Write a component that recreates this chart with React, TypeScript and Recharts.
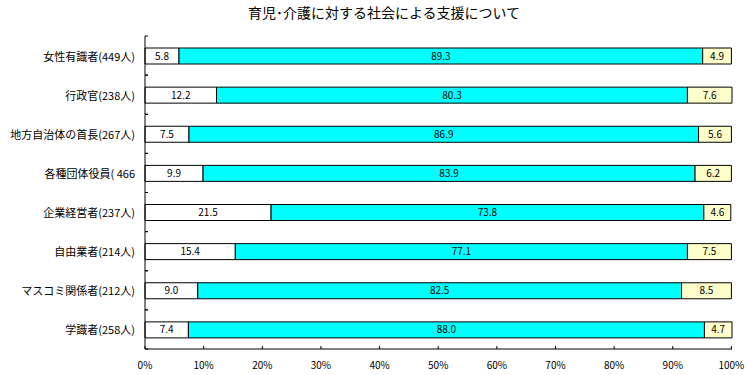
import React from 'react';
import { BarChart, Bar, XAxis, YAxis, LabelList } from 'recharts';

const title = '育児･介護に対する社会による支援について';
const categories = [
  '女性有識者(449人)',
  '行政官(238人)',
  '地方自治体の首長(267人)',
  '各種団体役員( 466',
  '企業経営者(237人)',
  '自由業者(214人)',
  'マスコミ関係者(212人)',
  '学識者(258人)',
];
const seriesWhite = [5.8, 12.2, 7.5, 9.9, 21.5, 15.4, 9.0, 7.4];
const seriesCyan = [89.3, 80.3, 86.9, 83.9, 73.8, 77.1, 82.5, 88.0];
const seriesYellow = [4.9, 7.6, 5.6, 6.2, 4.6, 7.5, 8.5, 4.7];
const xTicks = [0, 10, 20, 30, 40, 50, 60, 70, 80, 90, 100];

const data = categories.map((name, i) => ({
  name,
  a: seriesWhite[i],
  b: seriesCyan[i],
  c: seriesYellow[i],
}));

const W = 747;
const H = 375;
const M = { top: 36, right: 15, left: 0, bottom: 0 };
const Y_W = 145;
const X_H = 26;
const BAND = (H - M.top - M.bottom - X_H) / categories.length;
const FONT = '"Noto Sans CJK JP", "Noto Sans", sans-serif';

const CatTick = (props: any) => {
  const { x, y, payload } = props;
  return (
    <g>
      <text x={x - 10} y={y} textAnchor="end" dominantBaseline="central" fontSize={11} fill="#000" fontFamily={FONT}>
        {payload.value}
      </text>
      <line x1={x} x2={x + 3} y1={y - BAND / 2} y2={y - BAND / 2} stroke="#000" />
      <line x1={x} x2={x + 3} y1={y + BAND / 2} y2={y + BAND / 2} stroke="#000" />
    </g>
  );
};

const PctTick = (props: any) => {
  const { x, y, payload } = props;
  return (
    <g>
      <line x1={x} x2={x} y1={y - 3} y2={y} stroke="#000" />
      <text x={x} y={y + 15} textAnchor="middle" dominantBaseline="central" fontSize={10} fill="#000" fontFamily={FONT}>
        {`${payload.value}%`}
      </text>
    </g>
  );
};

const fmt = (v: any) => Number(v).toFixed(1);

export default function App() {
  return (
    <div style={{ position: 'absolute', left: 0, top: 0, width: W, height: H, background: '#fff' }}>
      <div
        style={{
          position: 'absolute',
          left: 0,
          width: 768,
          top: 3,
          textAlign: 'center',
          fontSize: 14,
          fontFamily: FONT,
          color: '#000',
          lineHeight: '18px',
        }}
      >
        {title}
      </div>
      <BarChart width={W} height={H} data={data} layout="vertical" margin={M} barSize={16}>
        <XAxis
          xAxisId="b"
          type="number"
          domain={[0, 100]}
          ticks={xTicks}
          height={X_H}
          tickSize={0}
          tickMargin={0}
          tick={<PctTick />}
          axisLine={{ stroke: '#000' }}
          interval={0}
        />
        <XAxis
          xAxisId="t"
          orientation="top"
          type="number"
          domain={[0, 100]}
          height={0}
          tick={false}
          tickLine={false}
          axisLine={{ stroke: '#808080' }}
        />
        <YAxis
          yAxisId="l"
          type="category"
          dataKey="name"
          width={Y_W}
          tickSize={0}
          tickMargin={0}
          tick={<CatTick />}
          axisLine={{ stroke: '#000' }}
          interval={0}
        />
        <YAxis
          yAxisId="r"
          orientation="right"
          type="category"
          dataKey="name"
          width={0}
          tick={false}
          tickLine={false}
          axisLine={{ stroke: '#808080' }}
        />
        <Bar xAxisId="b" yAxisId="l" dataKey="a" stackId="s" fill="#ffffff" stroke="#000" strokeWidth={1} isAnimationActive={false}>
          <LabelList dataKey="a" position="center" formatter={fmt} fontSize={10} fill="#000" fontFamily={FONT} />
        </Bar>
        <Bar xAxisId="b" yAxisId="l" dataKey="b" stackId="s" fill="#00ffff" stroke="#000" strokeWidth={1} isAnimationActive={false}>
          <LabelList dataKey="b" position="center" formatter={fmt} fontSize={10} fill="#000" fontFamily={FONT} />
        </Bar>
        <Bar xAxisId="b" yAxisId="l" dataKey="c" stackId="s" fill="#ffffcc" stroke="#000" strokeWidth={1} isAnimationActive={false}>
          <LabelList dataKey="c" position="center" formatter={fmt} fontSize={10} fill="#000" fontFamily={FONT} />
        </Bar>
      </BarChart>
    </div>
  );
}
